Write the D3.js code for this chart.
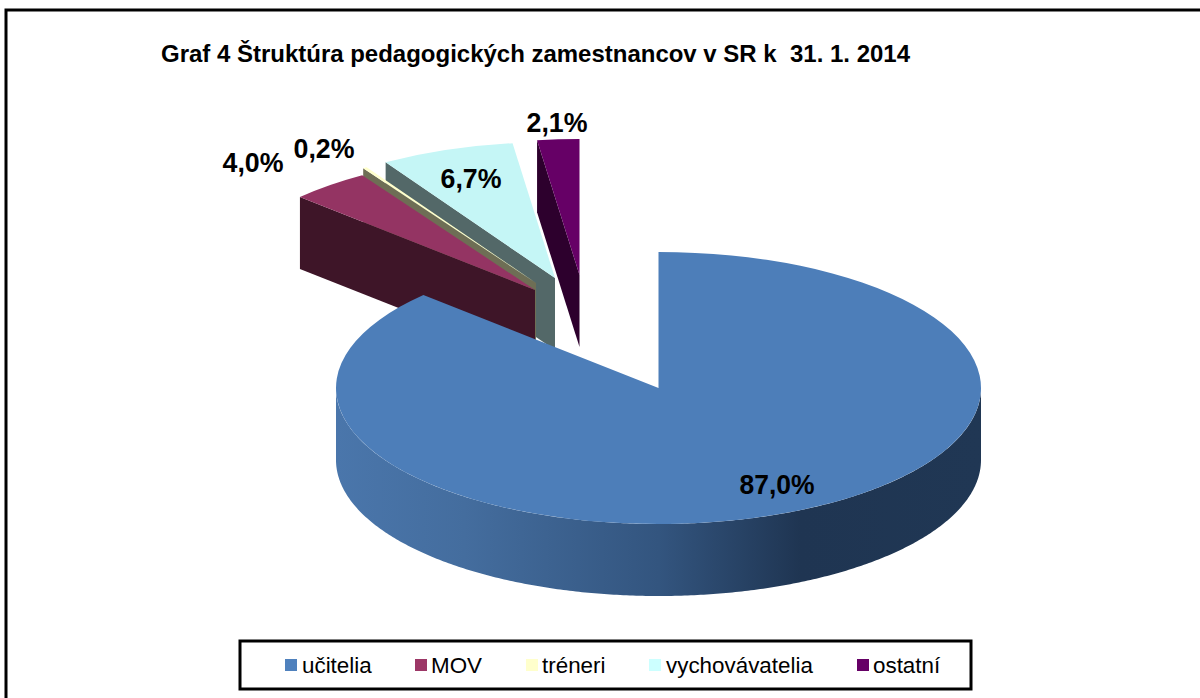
<!DOCTYPE html>
<html>
<head>
<meta charset="utf-8">
<script src="https://cdn.jsdelivr.net/npm/d3@7"></script>
<style>
html,body{margin:0;padding:0;background:#fff;overflow:hidden}
svg{display:block}
text{font-family:"Liberation Sans",Arial,sans-serif}
</style>
</head>
<body>
<svg id="c" width="1200" height="698"></svg>
<script>
const titleText = "Graf 4 Štruktúra pedagogických zamestnancov v SR k  31. 1. 2014";
const categories = ["učitelia", "MOV", "tréneri", "vychovávatelia", "ostatní"];
const values = [87.0, 4.0, 0.2, 6.7, 2.1];
const valueLabels = ["87,0%", "4,0%", "0,2%", "6,7%", "2,1%"];
const topColors = ["#4d7eb9", "#943463", "#ffffcc", "#c5f6f6", "#660066"];
const sideColors = ["#1f3552", "#3e1528", "#6e6e55", "#536868", "#2d002d"];
const legendColors = ["#4f81bd", "#9c3766", "#ffffcc", "#ccffff", "#660066"];

// layout
const rx = 322.5, ry = 136, depth = 72;
const apexes = [[658.5, 388], [535, 290], [536, 283], [555, 278], [579.5, 275]];
const labelPos = [[777, 484], [253, 162], [324, 148], [471, 178], [557, 122]];
const legendSwatchX = [285, 415, 526, 649, 857];
const legendTextX = [302, 431, 542, 666, 873];

const svg = d3.select("#c");

// Outer frame (top and left edges only)
svg.append("path").attr("d", "M6,698V10H1200").attr("fill", "none").attr("stroke", "#000").attr("stroke-width", 3);

svg.append("text").attr("x", 161).attr("y", 62).attr("font-size", 24).attr("font-weight", "bold")
  .attr("textLength", 749).attr("lengthAdjust", "spacingAndGlyphs")
  .attr("fill", "#000").style("white-space", "pre").text(titleText);

const pie = d3.pie().sort(null).value(d => d);
const arcs = pie(values);
const arc = d3.arc().innerRadius(0).outerRadius(rx);
const px = (a, i) => apexes[i][0] + rx * Math.sin(a);
const py = (a, i) => apexes[i][1] - ry * Math.cos(a);

const defs = svg.append("defs");
const grad = defs.append("linearGradient").attr("id", "wall").attr("gradientUnits", "userSpaceOnUse")
  .attr("x1", 336).attr("x2", 981).attr("y1", 0).attr("y2", 0);
[[0, "#4a76ab"], [0.2, "#446d9e"], [0.5, "#33557f"], [0.72, "#1f3552"], [1, "#203754"]]
  .forEach(s => grad.append("stop").attr("offset", s[0]).attr("stop-color", s[1]));

const g = svg.append("g");
const order = [4, 3, 2, 1, 0];

order.forEach(i => {
  const d = arcs[i];
  if (i === 0) {
    // outer wall, visible front half
    const front = d3.range(Math.PI / 2, 3 * Math.PI / 2 + 0.001, 0.01);
    const wall = d3.area().x(a => px(a, 0)).y0(a => py(a, 0)).y1(a => py(a, 0) + depth);
    g.append("path").attr("d", wall(front)).attr("fill", "url(#wall)");
  } else {
    // cut face at slice start
    const a = d.startAngle;
    const pts = [[px(a, i), py(a, i)], apexes[i], [apexes[i][0], apexes[i][1] + depth], [px(a, i), py(a, i) + depth]];
    g.append("path").attr("d", d3.line()(pts) + "Z").attr("fill", sideColors[i]);
  }
  g.append("path").attr("d", arc(d))
    .attr("transform", `translate(${apexes[i][0]},${apexes[i][1]}) scale(1,${ry / rx})`)
    .attr("fill", topColors[i]);
});

svg.append("g").selectAll("text").data(valueLabels).join("text")
  .attr("x", (d, i) => labelPos[i][0]).attr("y", (d, i) => labelPos[i][1] + 10)
  .attr("text-anchor", "middle").attr("font-size", 27.5).attr("font-weight", "bold").attr("fill", "#000")
  .attr("textLength", d => d.length === 5 ? 75 : 61).attr("lengthAdjust", "spacingAndGlyphs")
  .text(d => d);

// Legend
svg.append("rect").attr("x", 240).attr("y", 641).attr("width", 731).attr("height", 48)
  .attr("fill", "#fff").attr("stroke", "#000").attr("stroke-width", 3);
const lg = svg.append("g").selectAll("g").data(categories).join("g");
lg.append("rect").attr("x", (d, i) => legendSwatchX[i]).attr("y", 659).attr("width", 12).attr("height", 12)
  .attr("fill", (d, i) => legendColors[i]);
lg.append("text").attr("x", (d, i) => legendTextX[i]).attr("y", 673).attr("font-size", 22.4).attr("fill", "#000").text(d => d);
</script>
</body>
</html>
